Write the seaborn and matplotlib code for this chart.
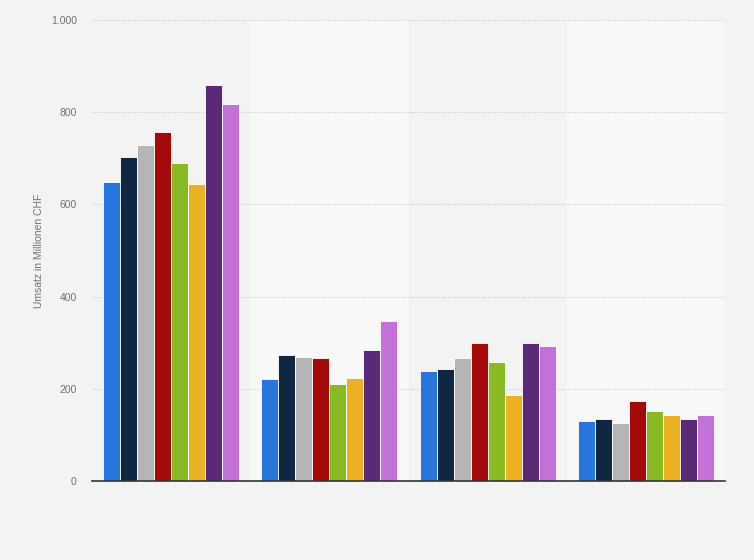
import pandas as pd
import matplotlib.pyplot as plt
import seaborn as sns
from matplotlib.ticker import FuncFormatter

# values (Umsatz in Mio. CHF)
categories = ['Gruppe A', 'Gruppe B', 'Gruppe C', 'Gruppe D']
series = ['2010', '2011', '2012', '2013', '2014', '2015', '2016', '2017']
values_a = [649, 703, 728, 758, 690, 645, 858, 818]
values_b = [221, 273, 269, 266, 211, 224, 284, 347]
values_c = [239, 243, 267, 300, 258, 186, 300, 292]
values_d = [130, 135, 126, 174, 151, 143, 135, 143]
colors = ['#2876dd', '#0f2741', '#b5b5b5', '#a50a0a', '#89b923',
          '#eab123', '#5b2a77', '#c271d9']

rows = []
for cat, vals in zip(categories, [values_a, values_b, values_c, values_d]):
    for s, v in zip(series, vals):
        rows.append({'Kategorie': cat, 'Jahr': s, 'Umsatz': v})
df = pd.DataFrame(rows)

sns.set_style('white')
plt.rcParams['font.family'] = ['Liberation Sans', 'DejaVu Sans']
fig = plt.figure(figsize=(7.54, 5.60), dpi=100, facecolor='#f3f3f3')
ax = fig.add_axes([92 / 754, 79 / 560, 633 / 754, 461 / 560])
ax.set_facecolor('#f3f3f3')

# alternating column bands
for i in range(len(categories)):
    if i % 2 == 1:
        ax.axvspan(i - 0.5, i + 0.5, color='#f8f8f8', zorder=0, lw=0)

sns.barplot(data=df, x='Kategorie', y='Umsatz', hue='Jahr', palette=colors,
            width=0.86, edgecolor='white', linewidth=0.6, saturation=1,
            legend=False, ax=ax, zorder=3)

ax.set_xlim(-0.5, len(categories) - 0.5)
ax.set_ylim(0, 1000)
ax.set_yticks([0, 200, 400, 600, 800, 1000])
ax.yaxis.set_major_formatter(FuncFormatter(lambda v, p: f'{int(v):,}'.replace(',', '.')))
ax.grid(axis='y', color='#d4d4d4', linestyle=(0, (1, 1)), linewidth=0.8, zorder=1)
ax.set_axisbelow(True)

for side in ['top', 'right', 'left']:
    ax.spines[side].set_visible(False)
ax.spines['bottom'].set_color('#333333')
ax.spines['bottom'].set_linewidth(1.2)
ax.spines['bottom'].set_zorder(5)

ax.set_xticks([])
ax.set_xlabel('')
ax.tick_params(axis='y', length=0, pad=11, labelsize=7.5, labelcolor='#707070')
ax.set_ylabel('Umsatz in Millionen CHF', fontsize=7.5, color='#707070', labelpad=5)

fig.savefig('out.png', dpi=100, facecolor=fig.get_facecolor())
